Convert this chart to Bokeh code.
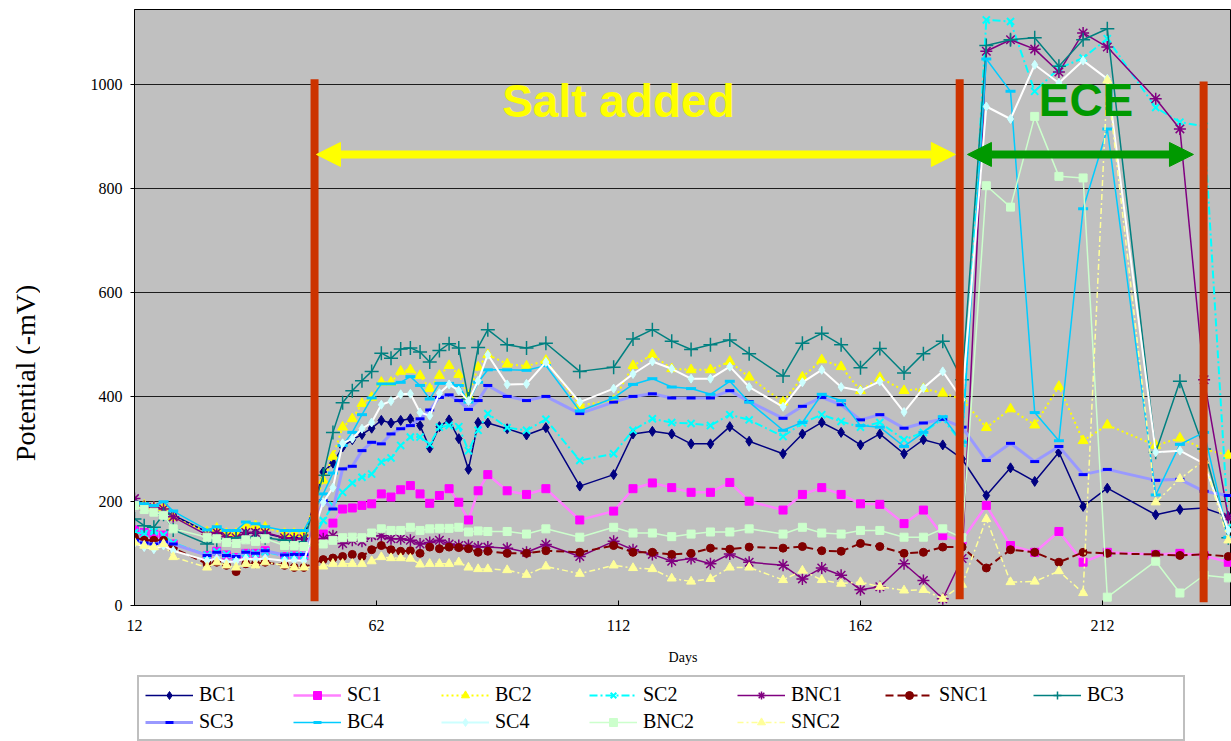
import math
from bokeh.plotting import figure
from bokeh.layouts import row, column
from bokeh.models import Range1d, FixedTicker, Legend, LegendItem, Label, Arrow, NormalHead
from bokeh.embed import file_html
from bokeh.resources import INLINE

# ---------------- data ----------------
days = [12, 14, 16, 18, 20, 27, 29, 31, 33, 35, 37, 39, 43, 45, 47,
        51, 53, 55, 57, 59, 61, 63, 65, 67, 69, 71, 73, 75, 77, 79, 81, 83, 85,
        89, 93, 97, 104, 111, 115, 119, 123, 127, 131, 135, 139,
        146, 150, 154, 158, 162, 166, 171, 175, 179, 183,
        188, 193, 198, 203, 208, 213, 223, 228, 233, 238]

BC1 = [195, 190, 185, 180, 173, 141, 140, 135, 133, 138, 140, 138, 130, 130, 128,
       256, 273, 304, 318, 328, 340, 355, 350, 355, 358, 345, 302, 343, 356, 320, 261, 351, 350,
       339, 327, 341, 229, 251, 329, 334, 329, 310, 310, 343, 315,
       291, 329, 351, 332, 308, 329, 291, 318, 308, 281,
       211, 264, 238, 294, 190, 225, 174, 184, 187, 171]
SC1 = [145, 140, 137, 135, 118, 96, 104, 97, 92, 100, 100, 105, 94, 95, 95,
       137, 158, 185, 187, 192, 195, 214, 208, 222, 230, 214, 196, 211, 224, 198, 164, 220, 251,
       220, 213, 224, 164, 181, 224, 235, 226, 217, 217, 236, 200,
       183, 213, 226, 213, 195, 194, 157, 183, 134, 125,
       192, 115, 102, 142, 83, 102, 98, 100, 96, 83]
BC2 = [195, 192, 188, 188, 169, 141, 148, 138, 138, 153, 153, 150, 138, 138, 138,
       240, 286, 342, 358, 387, 399, 428, 428, 449, 452, 441, 416, 441, 460, 443, 403, 457, 481,
       463, 459, 470, 384, 393, 460, 481, 454, 452, 452, 468, 438,
       390, 438, 471, 458, 412, 437, 412, 416, 407, 396,
       341, 377, 346, 420, 316, 346, 307, 321, 300, 288]
SC2 = [140, 138, 142, 135, 120, 97, 103, 98, 93, 100, 100, 103, 95, 96, 96,
       163, 192, 217, 235, 246, 252, 275, 283, 307, 323, 323, 309, 342, 345, 343, 297, 336, 368,
       341, 336, 357, 278, 291, 336, 358, 351, 349, 345, 366, 356,
       324, 350, 366, 353, 342, 351, 318, 332, 358, 311,
       1123, 1120, 986, 1030, 1050, 1087, 955, 927, 919, 150]
BNC1 = [205, 190, 188, 185, 170, 135, 140, 132, 130, 140, 140, 140, 130, 128, 128,
        128, 134, 119, 125, 123, 134, 134, 128, 128, 125, 118, 121, 125, 118, 115, 115, 112, 112,
        110, 102, 117, 94, 123, 107, 98, 85, 90, 80, 99, 83,
        77, 51, 72, 58, 30, 36, 80, 48, 13, 90,
        1063, 1085, 1067, 1023, 1098, 1071, 972, 914, 433, 169]
SNC1 = [131, 125, 125, 125, 110, 80, 83, 77, 65, 80, 80, 83, 77, 73, 73,
        88, 91, 94, 98, 94, 107, 115, 107, 104, 105, 100, 112, 109, 112, 111, 109, 102, 104,
        100, 100, 105, 102, 115, 102, 102, 98, 100, 110, 108, 112,
        110, 113, 105, 104, 119, 113, 100, 102, 112, 112,
        72, 107, 102, 83, 102, 100, 98, 96, 98, 94]
BC3 = [166, 153, 150, 175, 145, 118, 125, 128, 130, 132, 130, 130, 125, 122, 122,
       250, 332, 389, 412, 431, 449, 484, 474, 492, 494, 486, 467, 489, 502, 494, 396, 495, 529,
       500, 494, 503, 449, 457, 511, 529, 507, 491, 500, 509, 483,
       440, 503, 522, 500, 456, 493, 446, 483, 507, 433,
       1074, 1085, 1089, 1034, 1085, 1106, 294, 430, 300, 130]
SC3 = [125, 120, 118, 122, 118, 96, 102, 96, 94, 102, 100, 105, 97, 98, 98,
       201, 185, 262, 267, 297, 313, 310, 329, 339, 345, 358, 375, 399, 404, 393, 376, 393, 422,
       401, 393, 401, 368, 390, 401, 406, 398, 398, 398, 412, 391,
       359, 382, 399, 385, 356, 366, 340, 350, 357, 342,
       278, 311, 276, 305, 251, 261, 240, 242, 219, 211]
BC4 = [198, 195, 192, 199, 181, 145, 151, 144, 144, 160, 157, 151, 144, 144, 144,
       214, 254, 307, 332, 366, 398, 425, 425, 428, 439, 422, 396, 426, 426, 422, 390, 428, 452,
       452, 451, 460, 373, 398, 424, 435, 419, 416, 405, 430, 390,
       336, 351, 405, 393, 345, 342, 305, 332, 362, 313,
       1048, 986, 370, 316, 761, 914, 212, 309, 332, 131]
SC4 = [120, 112, 108, 115, 105, 86, 90, 83, 85, 90, 88, 90, 86, 87, 86,
       198, 226, 311, 320, 339, 351, 385, 392, 405, 406, 370, 364, 407, 424, 412, 392, 431, 481,
       424, 425, 467, 390, 416, 444, 468, 454, 435, 435, 458, 419,
       381, 428, 452, 419, 412, 430, 371, 417, 449, 395,
       957, 933, 1037, 1002, 1045, 1010, 294, 297, 272, 144]
BNC2 = [192, 184, 179, 173, 147, 131, 128, 121, 119, 126, 123, 128, 115, 115, 113,
        118, 125, 130, 131, 130, 139, 147, 144, 144, 150, 144, 147, 148, 148, 150, 141, 143, 142,
        142, 137, 147, 131, 150, 139, 139, 132, 137, 141, 141, 147,
        137, 150, 139, 137, 144, 144, 131, 131, 147, 130,
        805, 764, 938, 823, 820, 16, 85, 24, 58, 53]
SNC2 = [121, 115, 112, 118, 93, 73, 83, 77, 73, 80, 77, 83, 77, 73, 73,
        75, 80, 80, 80, 80, 85, 93, 91, 91, 90, 79, 80, 80, 80, 83, 73, 70, 70,
        68, 59, 75, 61, 77, 72, 70, 52, 46, 51, 73, 73,
        49, 67, 49, 42, 45, 36, 29, 30, 13, 40,
        166, 45, 46, 66, 24, 1007, 198, 243, 278, 125]

series_names = ["BC1", "SC1", "BC2", "SC2", "BNC1", "SNC1", "BC3",
                "SC3", "BC4", "SC4", "BNC2", "SNC2"]
series_values = [BC1, SC1, BC2, SC2, BNC1, SNC1, BC3, SC3, BC4, SC4, BNC2, SNC2]

x_ticks = [12, 62, 112, 162, 212]
y_ticks = [0, 200, 400, 600, 800, 1000]
x_title = "Days"
y_title = "Potential (-mV)"

# annotations (days / mV)
event_days = [49.2, 182.5, 232.9]
event_tops = [1009, 1009, 1005]
event_bottoms = [8, 12, 6]
salt_arrow = (49.6, 181.6, 865)
ece_arrow = (184.1, 230.8, 865)
salt_text = (112, 967, "Salt added")
ece_text = (208.6, 969, "ECE")

# ---------------- styles ----------------
styles = {
    "BC1":  dict(lc="#000080", lw=1.5, dash="solid",   m="diamond",  mc="#000080", ms=10, mlw=1),
    "SC1":  dict(lc="#FF80FF", lw=2.5, dash="solid",   m="square",   mc="#FF00FF", ms=8,  mlw=1),
    "BC2":  dict(lc="#FFFF00", lw=2,   dash="2 3",     m="triangle", mc="#FFFF00", ms=10, mlw=1),
    "SC2":  dict(lc="#00FFFF", lw=2,   dash="8 3 2 3", m="x",        mc="#00FFFF", ms=10, mlw=2),
    "BNC1": dict(lc="#800080", lw=1.5, dash="solid",   m="asterisk", mc="#800080", ms=12, mlw=1.5),
    "SNC1": dict(lc="#800000", lw=2,   dash="8 4",     m="circle",   mc="#800000", ms=8,  mlw=1),
    "BC3":  dict(lc="#008080", lw=1.5, dash="solid",   m="cross",    mc="#008080", ms=14, mlw=1.5),
    "SC3":  dict(lc="#9999FF", lw=3,   dash="solid",   m="dash",     mc="#0000FF", ms=9,  mlw=3),
    "BC4":  dict(lc="#00CCFF", lw=1.5, dash="solid",   m="dash",     mc="#00CCFF", ms=10, mlw=3),
    "SC4":  dict(lc="#FFFFFF", lw=2,   dash="solid",   m="diamond",  mc="#CCFFFF", ms=9,  mlw=1),
    "BNC2": dict(lc="#CCFFCC", lw=1.5, dash="solid",   m="square",   mc="#CCFFCC", ms=8,  mlw=1),
    "SNC2": dict(lc="#FFFF99", lw=1.5, dash="6 3 2 3", m="triangle", mc="#FFFF99", ms=9,  mlw=1),
}
# the white SC4 line is shown pale cyan on the white legend background
legend_line_color = {"SC4": "#CCFFFF"}

SERIF = "Liberation Serif"
TOTAL_W = 1231
TOP_H = 674      # chart part (plot + x axis)
LEG_H = 67       # legend strip below
TITLE_W = 40


def bare(fig):
    fig.outline_line_color = None
    fig.background_fill_color = "white"
    fig.border_fill_color = "white"
    fig.grid.visible = False


# ---------- narrow figure carrying the y-axis title ----------
t = figure(width=TITLE_W, height=TOP_H, output_backend="svg", toolbar_location=None,
           x_range=Range1d(0, TITLE_W), y_range=Range1d(0, TOP_H),
           x_axis_type=None, y_axis_type=None,
           min_border_left=0, min_border_right=0, min_border_top=0, min_border_bottom=0)
bare(t)
t.add_layout(Label(x=25, y=TOP_H - 411, text=y_title, angle=math.pi / 2,
                   text_align="center", text_baseline="middle", text_font=SERIF,
                   text_font_size="28px", text_color="black"))

# ---------- main chart ----------
p = figure(width=TOTAL_W - TITLE_W, height=TOP_H, output_backend="svg", toolbar_location=None,
           x_range=Range1d(12, 238.66), y_range=Range1d(0, 1143),
           min_border_left=134 - TITLE_W, min_border_right=0, min_border_top=9,
           min_border_bottom=TOP_H - 605)
p.background_fill_color = "#C0C0C0"
p.border_fill_color = "white"
p.outline_line_color = "black"
p.outline_line_width = 1

p.xgrid.visible = False
p.ygrid.ticker = FixedTicker(ticks=y_ticks)
p.ygrid.grid_line_color = "black"
p.ygrid.grid_line_alpha = 0.85

p.yaxis.ticker = FixedTicker(ticks=y_ticks)
p.xaxis.ticker = FixedTicker(ticks=x_ticks)
for ax in (p.xaxis[0], p.yaxis[0]):
    ax.axis_line_color = "black"
    ax.major_tick_line_color = "black"
    ax.minor_tick_line_color = None
    ax.major_label_text_font = SERIF
    ax.major_label_text_font_size = "16px"
    ax.major_label_text_color = "black"
p.yaxis.major_tick_in = 0
p.yaxis.major_tick_out = 4
p.yaxis.major_label_standoff = 8
p.xaxis.major_tick_in = 5
p.xaxis.major_tick_out = 0
p.xaxis.major_label_standoff = 14
p.xaxis.axis_label = x_title
p.xaxis.axis_label_text_font = SERIF
p.xaxis.axis_label_text_font_size = "14px"
p.xaxis.axis_label_text_font_style = "normal"
p.xaxis.axis_label_text_color = "black"
p.xaxis.axis_label_standoff = 16

for name, vals in zip(series_names, series_values):
    s = styles[name]
    p.line(days, vals, line_color=s["lc"], line_width=s["lw"], line_dash=s["dash"])
    p.scatter(days, vals, marker=s["m"], size=s["ms"], fill_color=s["mc"],
              line_color=s["mc"], line_width=s["mlw"])

# vertical event bars
p.segment(x0=event_days, y0=event_bottoms, x1=event_days, y1=event_tops,
          line_color="#CC3300", line_width=8, line_cap="butt")

# arrows
YEL = "#FFFF00"
GRN = "#009900"
p.add_layout(Arrow(start=NormalHead(size=24, fill_color=YEL, line_color=YEL),
                   end=NormalHead(size=24, fill_color=YEL, line_color=YEL),
                   x_start=salt_arrow[0], x_end=salt_arrow[1], y_start=salt_arrow[2], y_end=salt_arrow[2],
                   line_color=YEL, line_width=8))
p.add_layout(Arrow(start=NormalHead(size=24, fill_color=GRN, line_color=GRN),
                   end=NormalHead(size=24, fill_color=GRN, line_color=GRN),
                   x_start=ece_arrow[0], x_end=ece_arrow[1], y_start=ece_arrow[2], y_end=ece_arrow[2],
                   line_color=GRN, line_width=8))

p.add_layout(Label(x=salt_text[0], y=salt_text[1], text=salt_text[2], text_align="center",
                   text_baseline="alphabetic", text_font="Liberation Sans", text_font_style="bold",
                   text_font_size="46px", text_color=YEL))
p.add_layout(Label(x=ece_text[0], y=ece_text[1], text=ece_text[2], text_align="center",
                   text_baseline="alphabetic", text_font="Liberation Sans", text_font_style="bold",
                   text_font_size="46px", text_color=GRN))

# ---------- legend strip ----------
lf = figure(width=TOTAL_W, height=LEG_H, output_backend="svg", toolbar_location=None,
            x_range=Range1d(0, 1), y_range=Range1d(0, 1),
            x_axis_type=None, y_axis_type=None,
            min_border_left=0, min_border_right=0, min_border_top=0, min_border_bottom=0)
bare(lf)
items = []
for name in series_names:
    s = styles[name]
    # proxy renderers (their points lie outside the strip's visible range)
    lr = lf.line(x=[-5, -4], y=[-5, -5], line_color=legend_line_color.get(name, s["lc"]),
                 line_width=s["lw"], line_dash=s["dash"])
    sr = lf.scatter(x=[-5], y=[-5], marker=s["m"], size=s["ms"], fill_color=s["mc"],
                    line_color=s["mc"], line_width=s["mlw"])
    items.append(LegendItem(label=name, renderers=[lr, sr]))

legend = Legend(items=items, orientation="horizontal", ncols=7, location=(137, 0),
                glyph_width=48, glyph_height=20, label_height=20, label_width=90,
                label_standoff=6, spacing=4, padding=6, margin=0,
                label_text_font=SERIF, label_text_font_size="20px", label_text_color="black",
                border_line_color="#7F7F7F", border_line_width=2,
                background_fill_color="white", background_fill_alpha=1)
lf.add_layout(legend)

layout = column(row(t, p, spacing=0), lf, spacing=0)
open("out.html", "w").write(file_html(layout, INLINE))
